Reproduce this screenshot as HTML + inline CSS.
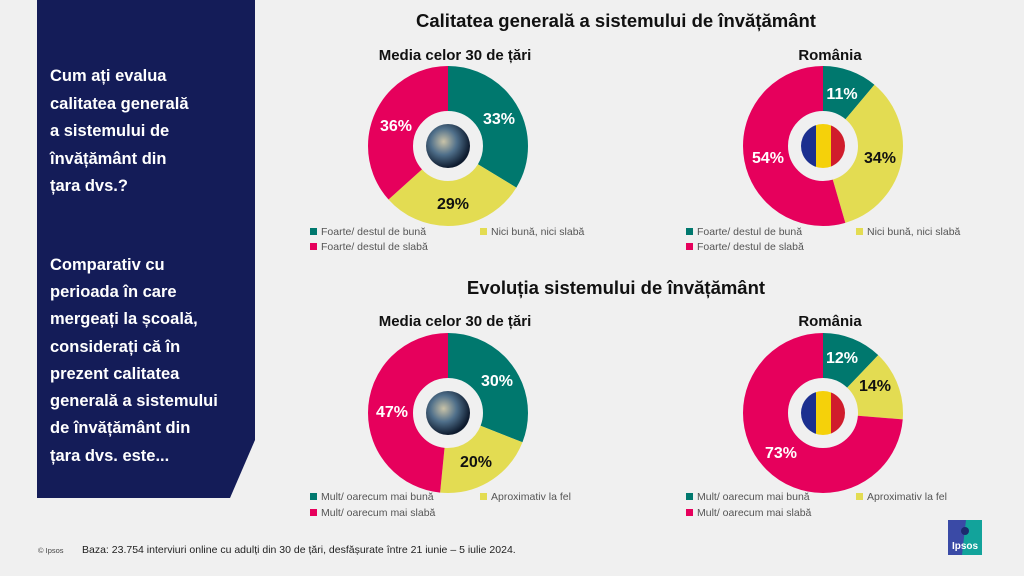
<!DOCTYPE html>
<html><head><meta charset="utf-8"><style>
html,body{margin:0;padding:0;background:#f0f0f0;}
svg{display:block;font-family:"Liberation Sans",sans-serif;}
.t{font-weight:bold;fill:#111;text-anchor:middle}
.lb{font-weight:bold;font-size:16px;text-anchor:middle}
.lg{font-size:10.5px;fill:#555}
.q{font-weight:bold;font-size:16.5px;fill:#fff}
</style></head><body>
<svg width="1024" height="576" viewBox="0 0 1024 576">
<rect width="1024" height="576" fill="#f0f0f0"/>
<polygon points="37,0 255,0 255,440 230,498 37,498" fill="#141c58"/>
<g class="q">
<text x="50" y="81">Cum ați evalua</text>
<text x="50" y="109">calitatea generală</text>
<text x="50" y="136">a sistemului de</text>
<text x="50" y="164">învățământ din</text>
<text x="50" y="191">țara dvs.?</text>
<text x="50" y="270">Comparativ cu</text>
<text x="50" y="297">perioada în care</text>
<text x="50" y="324">mergeați la școală,</text>
<text x="50" y="352">considerați că în</text>
<text x="50" y="379">prezent calitatea</text>
<text x="50" y="406">generală a sistemului</text>
<text x="50" y="433">de învățământ din</text>
<text x="50" y="461">țara dvs. este...</text>
</g>
<text class="t" x="616" y="27" font-size="18.5">Calitatea generală a sistemului de învățământ</text>
<text class="t" x="616" y="294" font-size="18.5">Evoluția sistemului de învățământ</text>
<text class="t" x="455" y="60" font-size="15">Media celor 30 de țări</text>
<text class="t" x="830" y="60" font-size="15">România</text>
<text class="t" x="455" y="326" font-size="15">Media celor 30 de țări</text>
<text class="t" x="830" y="326" font-size="15">România</text>

<defs>
<radialGradient id="gl" cx="0.4" cy="0.4" r="0.6"><stop offset="0" stop-color="#c9c3a8"/><stop offset="0.5" stop-color="#4f6f8a"/><stop offset="1" stop-color="#0e1b2e"/></radialGradient>
</defs>

<!-- pie 1 -->
<g transform="translate(448,146) rotate(-90)" fill="none" stroke-width="45">
<circle r="57.5" stroke="#00786e" stroke-dasharray="121.65 361.28" stroke-dashoffset="0"/>
<circle r="57.5" stroke="#e3dc52" stroke-dasharray="107 361.28" stroke-dashoffset="-121.65"/>
<circle r="57.5" stroke="#e6005c" stroke-dasharray="132.7 361.28" stroke-dashoffset="-228.6"/>
</g>
<circle cx="448" cy="146" r="22" fill="url(#gl)"/>
<text class="lb" x="499" y="124" fill="#fff">33%</text>
<text class="lb" x="453" y="209" fill="#111">29%</text>
<text class="lb" x="396" y="131" fill="#fff">36%</text>

<!-- pie 2 -->
<g transform="translate(823,146) rotate(-90)" fill="none" stroke-width="45">
<circle r="57.5" stroke="#00786e" stroke-dasharray="40.14 361.28" stroke-dashoffset="0"/>
<circle r="57.5" stroke="#e3dc52" stroke-dasharray="124.08 361.28" stroke-dashoffset="-40.14"/>
<circle r="57.5" stroke="#e6005c" stroke-dasharray="197.06 361.28" stroke-dashoffset="-164.22"/>
</g>
<clipPath id="c1"><circle cx="823" cy="146" r="22"/></clipPath>
<g clip-path="url(#c1)"><rect x="801" y="124" width="15" height="44" fill="#1b2f8f"/><rect x="816" y="124" width="15" height="44" fill="#f5d10a"/><rect x="831" y="124" width="15" height="44" fill="#d01c2c"/></g>
<text class="lb" x="842" y="99" fill="#fff">11%</text>
<text class="lb" x="880" y="163" fill="#111">34%</text>
<text class="lb" x="768" y="163" fill="#fff">54%</text>

<!-- pie 3 -->
<g transform="translate(448,413) rotate(-90)" fill="none" stroke-width="45">
<circle r="57.5" stroke="#00786e" stroke-dasharray="111.74 361.28" stroke-dashoffset="0"/>
<circle r="57.5" stroke="#e3dc52" stroke-dasharray="74.49 361.28" stroke-dashoffset="-111.74"/>
<circle r="57.5" stroke="#e6005c" stroke-dasharray="175.05 361.28" stroke-dashoffset="-186.23"/>
</g>
<circle cx="448" cy="413" r="22" fill="url(#gl)"/>
<text class="lb" x="497" y="386" fill="#fff">30%</text>
<text class="lb" x="476" y="467" fill="#111">20%</text>
<text class="lb" x="392" y="417" fill="#fff">47%</text>

<!-- pie 4 -->
<g transform="translate(823,413) rotate(-90)" fill="none" stroke-width="45">
<circle r="57.5" stroke="#00786e" stroke-dasharray="43.79 361.28" stroke-dashoffset="0"/>
<circle r="57.5" stroke="#e3dc52" stroke-dasharray="51.09 361.28" stroke-dashoffset="-43.79"/>
<circle r="57.5" stroke="#e6005c" stroke-dasharray="266.4 361.28" stroke-dashoffset="-94.88"/>
</g>
<clipPath id="c2"><circle cx="823" cy="413" r="22"/></clipPath>
<g clip-path="url(#c2)"><rect x="801" y="391" width="15" height="44" fill="#1b2f8f"/><rect x="816" y="391" width="15" height="44" fill="#f5d10a"/><rect x="831" y="391" width="15" height="44" fill="#d01c2c"/></g>
<text class="lb" x="842" y="363" fill="#fff">12%</text>
<text class="lb" x="875" y="391" fill="#111">14%</text>
<text class="lb" x="781" y="458" fill="#fff">73%</text>

<!-- legends -->
<g class="lg">
<rect x="310" y="228" width="7" height="7" fill="#00786e"/><text x="321" y="235">Foarte/ destul de bună</text>
<rect x="480" y="228" width="7" height="7" fill="#e3dc52"/><text x="491" y="235">Nici bună, nici slabă</text>
<rect x="310" y="243" width="7" height="7" fill="#e6005c"/><text x="321" y="250">Foarte/ destul de slabă</text>
<rect x="686" y="228" width="7" height="7" fill="#00786e"/><text x="697" y="235">Foarte/ destul de bună</text>
<rect x="856" y="228" width="7" height="7" fill="#e3dc52"/><text x="867" y="235">Nici bună, nici slabă</text>
<rect x="686" y="243" width="7" height="7" fill="#e6005c"/><text x="697" y="250">Foarte/ destul de slabă</text>
<rect x="310" y="493" width="7" height="7" fill="#00786e"/><text x="321" y="500">Mult/ oarecum mai bună</text>
<rect x="480" y="493" width="7" height="7" fill="#e3dc52"/><text x="491" y="500">Aproximativ la fel</text>
<rect x="310" y="509" width="7" height="7" fill="#e6005c"/><text x="321" y="516">Mult/ oarecum mai slabă</text>
<rect x="686" y="493" width="7" height="7" fill="#00786e"/><text x="697" y="500">Mult/ oarecum mai bună</text>
<rect x="856" y="493" width="7" height="7" fill="#e3dc52"/><text x="867" y="500">Aproximativ la fel</text>
<rect x="686" y="509" width="7" height="7" fill="#e6005c"/><text x="697" y="516">Mult/ oarecum mai slabă</text>
</g>
<text x="38" y="553" font-size="7.5" fill="#444">© Ipsos</text>
<text x="82" y="553" font-size="10.5" fill="#222">Baza: 23.754 interviuri online cu adulți din 30 de țări, desfășurate între 21 iunie – 5 iulie 2024.</text>
<rect x="948" y="520" width="34" height="35" fill="#3a4aa6"/>
<polygon points="966,520 982,520 982,555 962,555" fill="#12a39b"/>
<circle cx="965" cy="531" r="4" fill="#1c2a6e"/>
<text x="965" y="549" font-size="10" font-weight="bold" fill="#fff" text-anchor="middle">Ipsos</text>
</svg>
</body></html>
